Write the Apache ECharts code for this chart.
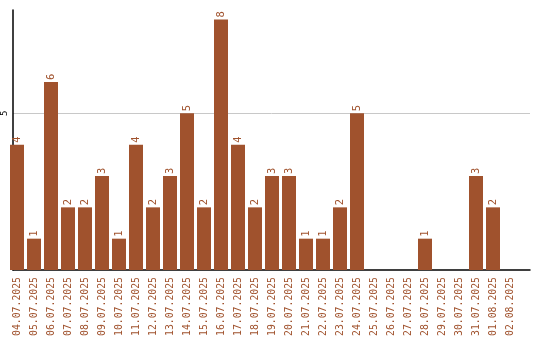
<!DOCTYPE html>
<html><head><meta charset="utf-8">
<script src="https://cdn.jsdelivr.net/npm/echarts@6/dist/echarts.min.js"></script>
<style>html,body{margin:0;padding:0;background:#fff}#c{width:540px;height:340px}</style>
</head><body><div id="c"></div>
<script>
var categories = ['04.07.2025','05.07.2025','06.07.2025','07.07.2025','08.07.2025','09.07.2025','10.07.2025','11.07.2025','12.07.2025','13.07.2025','14.07.2025','15.07.2025','16.07.2025','17.07.2025','18.07.2025','19.07.2025','20.07.2025','21.07.2025','22.07.2025','23.07.2025','24.07.2025','25.07.2025','26.07.2025','27.07.2025','28.07.2025','29.07.2025','30.07.2025','31.07.2025','01.08.2025','02.08.2025'];
var values = [4,1,6,2,2,3,1,4,2,3,5,2,8,4,2,3,3,1,1,2,5,0,0,0,1,0,0,3,2,0];
var yTicks = [5];

var C = '#a0522d';
var FONT = 'DejaVu Sans Mono';
var T = 'rgba(0,0,0,0)';
var chart = echarts.init(document.getElementById('c'), null, {renderer:'canvas'});
chart.setOption({
  animation:false,
  grid:[
    {left:8.5, width:510, top:10, bottom:70},
    {left:10, right:10, top:10, bottom:70}
  ],
  xAxis:[
    {type:'category', gridIndex:0, data:categories,
     axisLine:{show:false}, axisTick:{show:false},
     axisLabel:{rotate:90, interval:0, color:C, fontFamily:FONT, fontSize:9.8, margin:7}},
    {type:'value', gridIndex:1, min:0, max:1,
     axisLine:{show:true, lineStyle:{color:'#000', width:1.5}}, axisTick:{show:false},
     axisLabel:{show:false}, splitLine:{show:false}}
  ],
  yAxis:[
    {type:'value', gridIndex:0, min:0, max:8.3, show:false, splitLine:{show:false}},
    {type:'value', gridIndex:1, min:0, max:8.3, interval:5,
     axisLine:{show:true, lineStyle:{color:'#000', width:1.5}}, axisTick:{show:false},
     axisLabel:{rotate:90, fontFamily:FONT, fontSize:9, color:'#000', margin:4,
       showMinLabel:false, showMaxLabel:false,
       formatter:function(v){return yTicks.indexOf(v)>=0 ? String(v) : '';}},
     splitLine:{show:true, lineStyle:{color:[T,'#c8c8c8',T], width:1}}}
  ],
  series:[{
    type:'bar', xAxisIndex:0, yAxisIndex:0, data:values, barWidth:14,
    itemStyle:{color:C},
    label:{show:true, position:'top', rotate:90, align:'left', verticalAlign:'middle',
      distance:2, color:C, fontFamily:FONT, fontSize:10.5,
      formatter:function(p){return p.value ? String(p.value) : '';}}
  }]
});
</script></body></html>
